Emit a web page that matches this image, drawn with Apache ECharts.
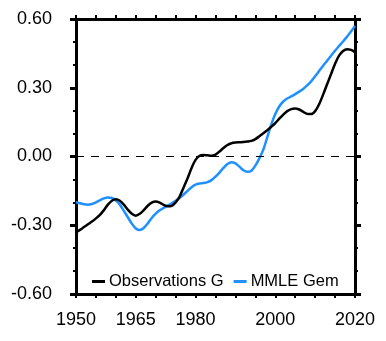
<!DOCTYPE html>
<html>
<head>
<meta charset="utf-8">
<script src="https://cdn.jsdelivr.net/npm/echarts@6/dist/echarts.min.js"></script>
<style>
html,body{margin:0;padding:0;background:#fff;}
#c{width:386px;height:341px;}
</style>
</head>
<body>
<div id="c"></div>
<script>
const years = [];
for (let y = 1950; y <= 2020; y++) years.push(y);

const obsValues = [
 -0.330,-0.320,-0.308,-0.296,-0.284,-0.270,-0.255,-0.234,-0.210,-0.193,
 -0.186,-0.193,-0.210,-0.232,-0.250,-0.258,-0.250,-0.234,-0.215,-0.201,
 -0.196,-0.201,-0.211,-0.217,-0.215,-0.200,-0.175,-0.135,-0.095,-0.050,
 -0.015, 0.003, 0.007, 0.005, 0.003, 0.008, 0.022, 0.037, 0.050, 0.058,
  0.061, 0.062, 0.063, 0.065, 0.068, 0.076, 0.088, 0.101, 0.115, 0.130,
  0.146, 0.165, 0.183, 0.198, 0.207, 0.210, 0.205, 0.195, 0.186, 0.185,
  0.198, 0.228, 0.270, 0.315, 0.360, 0.405, 0.440, 0.460, 0.468, 0.465,
  0.455
];

const mmleValues = [
 -0.200,-0.204,-0.208,-0.210,-0.207,-0.200,-0.191,-0.183,-0.179,-0.181,
 -0.192,-0.210,-0.237,-0.265,-0.293,-0.314,-0.321,-0.312,-0.292,-0.268,
 -0.249,-0.235,-0.224,-0.214,-0.204,-0.193,-0.181,-0.166,-0.150,-0.134,
 -0.123,-0.118,-0.116,-0.112,-0.103,-0.088,-0.070,-0.050,-0.033,-0.025,
 -0.030,-0.044,-0.060,-0.067,-0.062,-0.040,-0.008, 0.030, 0.085, 0.140,
  0.185, 0.218, 0.240, 0.253, 0.262, 0.272, 0.283, 0.295, 0.310, 0.328,
  0.350, 0.373, 0.396, 0.418, 0.440, 0.462, 0.482, 0.502, 0.523, 0.545,
  0.570
];

const seriesNames = ['Observations G', 'MMLE Gem'];
const xTickLabels = [1950, 1965, 1980, 2000, 2020];

const FONT = 'Liberation Sans';
const black = '#000';
const blue = '#1E90FF';

function mkX(pos, showLabel) {
  return {
    type: 'value', position: pos, min: 1950, max: 2020, interval: 5,
    splitLine: {show: false},
    axisLine: {show: true, onZero: false, lineStyle: {color: black, width: 3}},
    axisTick: {show: true, length: 4, lineStyle: {color: black, width: 2}},
    axisLabel: {show: showLabel, margin: 17, color: black, fontSize: 18, fontFamily: FONT,
      formatter: v => (xTickLabels.indexOf(v) >= 0 ? String(v) : '')}
  };
}
function mkY(pos, showLabel) {
  return {
    type: 'value', position: pos, min: -0.6, max: 0.6, interval: 0.3,
    splitLine: {show: false},
    axisLine: {show: true, onZero: false, lineStyle: {color: black, width: 3}},
    axisTick: {show: true, length: 6, lineStyle: {color: black, width: 3}},
    minorTick: {show: true, splitNumber: 3, length: 3, lineStyle: {color: black, width: 2}},
    axisLabel: {show: showLabel, margin: 13, padding: [0, 11, 0, 0], color: black, fontSize: 18,
      fontFamily: FONT, formatter: v => v.toFixed(2)}
  };
}

const chart = echarts.init(document.getElementById('c'), null, {renderer: 'canvas'});
chart.setOption({
  backgroundColor: '#fff',
  animation: false,
  grid: {left: 76, right: 31, top: 19, bottom: 47, outerBoundsMode: 'none'},
  xAxis: [mkX('bottom', true), mkX('top', false)],
  yAxis: [mkY('left', true), mkY('right', false)],
  legend: {
    left: 92, top: 273, padding: 0, itemWidth: 13, itemHeight: 3, itemGap: 10,
    icon: 'rect',
    textStyle: {color: black, fontSize: 16.5, fontFamily: FONT, padding: [0, 0, 0, -1]},
    data: seriesNames
  },
  series: [
    {
      name: seriesNames[0], type: 'line', xAxisIndex: 0, yAxisIndex: 0,
      data: years.map((y, i) => [y, obsValues[i]]),
      showSymbol: false, smooth: 0.3,
      lineStyle: {color: black, width: 2.5}, itemStyle: {color: black},
      markLine: {
        silent: true, symbol: 'none', label: {show: false},
        lineStyle: {color: black, width: 1, type: [8, 7]},
        data: [{yAxis: 0}]
      },
      z: 3
    },
    {
      name: seriesNames[1], type: 'line', xAxisIndex: 0, yAxisIndex: 0,
      data: years.map((y, i) => [y, mmleValues[i]]),
      showSymbol: false, smooth: 0.3,
      lineStyle: {color: blue, width: 2.5}, itemStyle: {color: blue},
      z: 2
    }
  ]
});
</script>
</body>
</html>
